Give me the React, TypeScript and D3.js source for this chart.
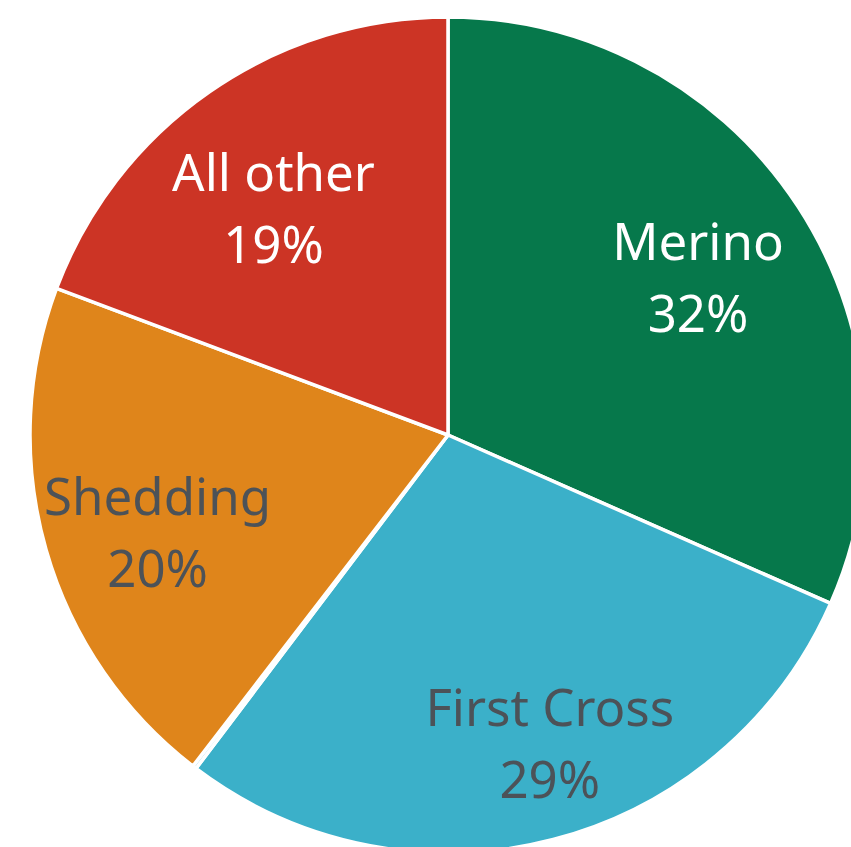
import React from "react";
import * as d3 from "d3";

const categories = ["Merino", "First Cross", "", "Shedding", "All other"];
const values = [31.6, 28.7, 0.15, 20.25, 19.3];
const pctLabels = ["32%", "29%", "", "20%", "19%"];
const colors = ["#06784B", "#3BB0C9", "#9ED6E4", "#DF851B", "#CC3425"];
const textColors = ["#FFFFFF", "#4C5258", "#4C5258", "#4C5258", "#FFFFFF"];
const labelNudge: [number, number][] = [[-2, 7], [26, 18], [0, 0], [-1, 15], [-3, 21]];

const W = 851;
const H = 847;
const cx = 448;
const cy = 435;
const R = 418;

export default function App() {
  const pie = d3.pie<number>().sort(null).value((d) => d);
  const arcs = pie(values);
  const arc = d3.arc<d3.PieArcDatum<number>>().innerRadius(0).outerRadius(R);
  const labelArc = d3.arc<d3.PieArcDatum<number>>().innerRadius(R * 0.72).outerRadius(R * 0.72);
  const fs = 51;
  return (
    <svg
      width={W}
      height={H}
      style={{ position: "absolute", left: 0, top: 0, background: "#fff" }}
      fontFamily="'Noto Sans', sans-serif"
    >
      <g transform={`translate(${cx},${cy})`}>
        {arcs.map((a, i) => (
          <path key={i} d={arc(a) || ""} fill={colors[i]} stroke="#fff" strokeWidth={3.5} strokeLinejoin="round" />
        ))}
        {arcs.map((a, i) => {
          if (!categories[i]) return null;
          const [x, y] = labelArc.centroid(a);
          const lx = x + labelNudge[i][0];
          const ly = y + labelNudge[i][1];
          return (
            <g key={"l" + i} fill={textColors[i]} fontSize={fs} textAnchor="middle">
              <text x={lx} y={ly - 18}>{categories[i]}</text>
              <text x={lx} y={ly + 54}>{pctLabels[i]}</text>
            </g>
          );
        })}
      </g>
    </svg>
  );
}
